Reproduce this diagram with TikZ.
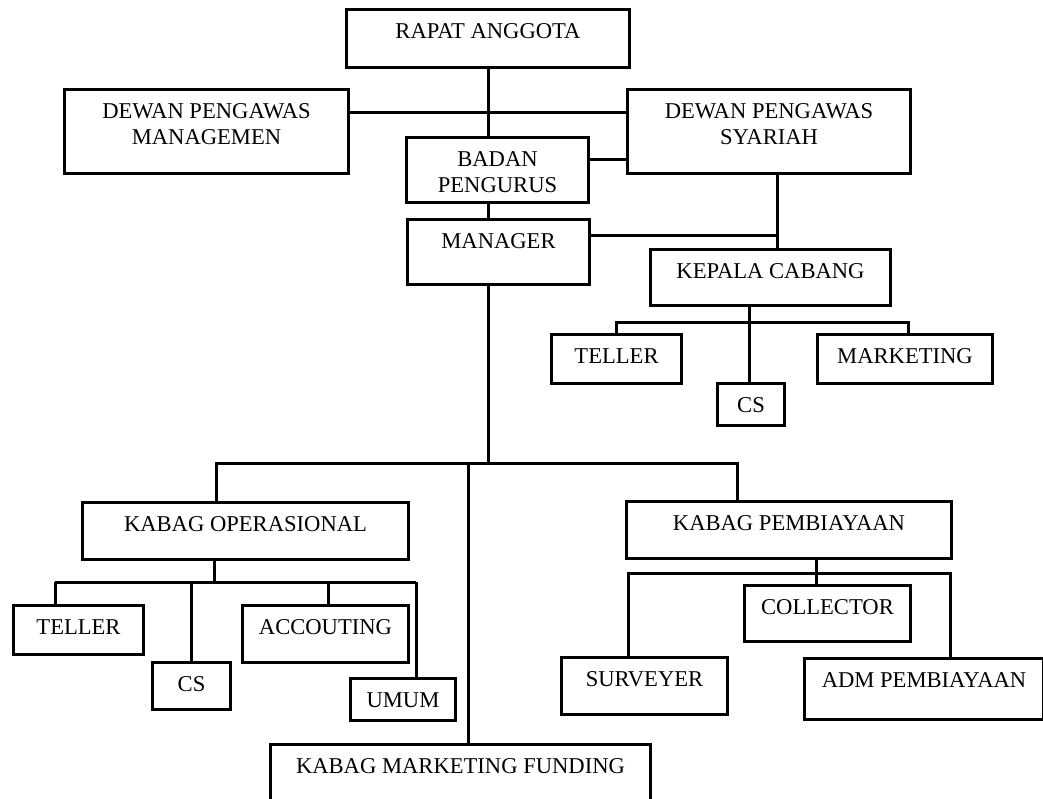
\documentclass[tikz,border=0pt]{standalone}
\usepackage{fontspec}
\setmainfont{Liberation Serif}
\tikzset{
	orgbox/.style = {draw, line width = 1.5pt, anchor = north west, inner xsep = 0pt, inner ysep = 0pt,
		text height = 14.5pt, font = \fontsize{11.3}{13}\selectfont},
	link/.style = {line width = 1.5pt}
}
\newcommand{\twolines}[2]{\begin{tabular}[t]{@{}c@{}}#1\\#2\end{tabular}}
\begin{document}
\begin{tikzpicture}[x = 0.5pt, y = -0.5pt]
\useasboundingbox (0,0) rectangle (1043,798);
% top of the chart
\node[orgbox, minimum width = 141.5pt, text depth = 14.5pt] (rapat) at (345,8) {RAPAT ANGGOTA};
\node[orgbox, minimum width = 142pt, text depth = 27.5pt] (dpm) at (63,88) {\twolines{DEWAN PENGAWAS}{MANAGEMEN}};
\node[orgbox, minimum width = 141.5pt, text depth = 27.5pt] (dps) at (626,88) {\twolines{DEWAN PENGAWAS}{SYARIAH}};
\node[orgbox, minimum width = 91pt, text depth = 18pt] (badan) at (405,136) {\twolines{BADAN}{PENGURUS}};
\node[orgbox, minimum width = 91pt, text depth = 18pt] (manager) at (406,218) {MANAGER};
\node[orgbox, minimum width = 120pt, text depth = 13.5pt] (kepala) at (649,248) {KEPALA CABANG};
% cabang
\node[orgbox, minimum width = 65pt, text depth = 10pt] (tellerA) at (550,333) {TELLER};
\node[orgbox, minimum width = 33.5pt, text depth = 6.5pt] (csA) at (716,382) {CS};
\node[orgbox, minimum width = 87.5pt, text depth = 10pt] (mkt) at (816,333) {MARKETING};
% kabag
\node[orgbox, minimum width = 163pt, text depth = 14pt] (kop) at (81,501) {KABAG OPERASIONAL};
\node[orgbox, minimum width = 162.5pt, text depth = 14pt] (kpb) at (625,500) {KABAG PEMBIAYAAN};
\node[orgbox, minimum width = 190pt, text depth = 18.5pt] (kmf) at (269,743) {KABAG MARKETING FUNDING};
% operasional
\node[orgbox, minimum width = 65pt, text depth = 10pt] (tellerB) at (12,604) {TELLER};
\node[orgbox, minimum width = 39pt, text depth = 9pt] (csB) at (151,661) {CS};
\node[orgbox, minimum width = 83pt, text depth = 14pt] (acc) at (241,604) {ACCOUTING};
\node[orgbox, minimum width = 52.5pt, text depth = 6.5pt] (umum) at (349,677) {UMUM};
% pembiayaan
\node[orgbox, minimum width = 83pt, text depth = 13.5pt] (coll) at (743,584) {COLLECTOR};
\node[orgbox, minimum width = 83pt, text depth = 14pt] (surv) at (560,656) {SURVEYER};
\node[orgbox, minimum width = 119.5pt, text depth = 16pt] (adm) at (803,657) {ADM PEMBIAYAAN};

% lines at the top
\coordinate (top) at (488,112);
\draw[link] (rapat.south) -- (rapat.south |- badan.north);
\draw[link] (dpm.east |- top) -- (dps.west |- top);
\draw[link] (badan.east |- 0,159) -- (dps.west |- 0,159);
\draw[link] (rapat.south |- badan.south) -- (rapat.south |- manager.north);
\coordinate (kc) at (777,235);
\draw[link] (manager.east |- kc) -- (kc);
\draw[link] (dps.south -| kc) -- (kepala.north -| kc);
% kepala cabang
\coordinate (kbus) at (749,322);
\draw[link] (kbus |- kepala.south) -- (kbus |- csA.north);
\draw[link] (tellerA.north) |- (kbus) -| (908,333 |- mkt.north);
% manager down to the kabag
\coordinate (mbus) at (488,463);
\coordinate (mL) at (216,463);
\coordinate (mM) at (468,463);
\coordinate (mR) at (737,463);
\draw[link] (mbus |- manager.south) -- (mbus);
\draw[link] (mL |- kop.north) -- (mL) -- (mR) -- (mR |- kpb.north);
\draw[link] (mM) -- (mM |- kmf.north);
% operasional staff
\coordinate (obus) at (214,582);
\draw[link] (obus |- kop.south) -- (obus);
\draw[link] (55,582) -- (416,582);
\foreach \x/\n in {55/tellerB, 191/csB, 328/acc, 416/umum}
{
	\draw[link] (\x,582) -- (\x,582 |- \n.north);
}
% pembiayaan staff
\coordinate (pbus) at (816,573);
\draw[link] (pbus |- kpb.south) -- (pbus |- coll.north);
\draw[link] (628,573 |- surv.north) -- (628,573) -- (950,573) -- (950,573 |- adm.north);
\end{tikzpicture}
\end{document}
